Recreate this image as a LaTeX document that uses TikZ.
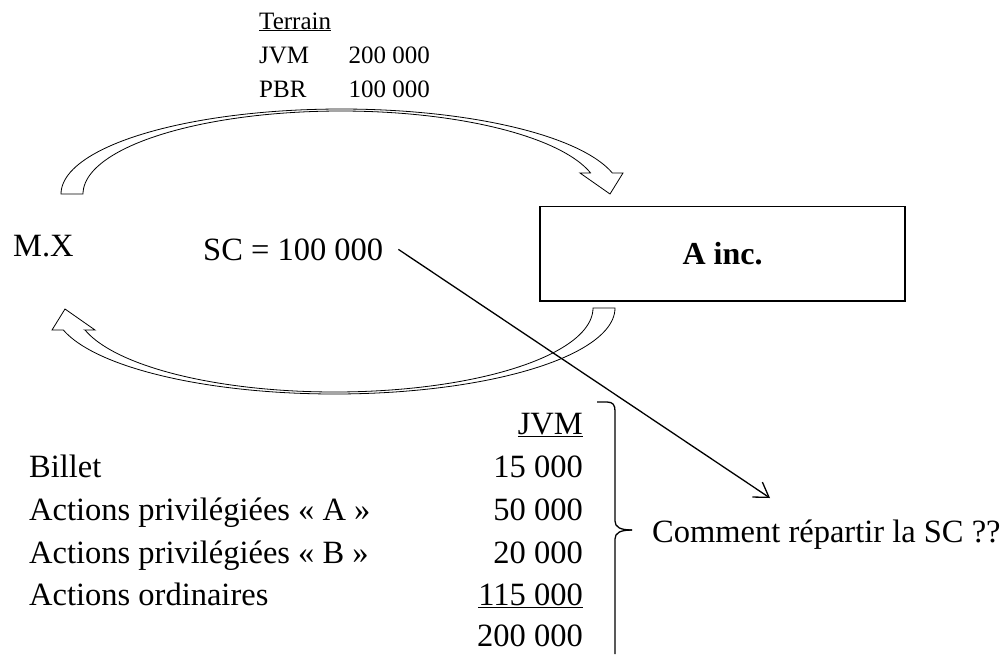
\documentclass[tikz,border=0pt]{standalone}
\usepackage{fontspec}
\setmainfont{Liberation Serif}
\usetikzlibrary{arrows.meta}

\begin{document}
\begin{tikzpicture}[x=1pt, y=-1pt,
    petit/.style={font=\fontsize{25}{30}\selectfont, inner sep=0pt},
    grand/.style={font=\fontsize{32.5}{39}\selectfont, inner sep=0pt},
    fleche/.style={draw, fill=white, line width=0.8pt, line join=miter}]
  \useasboundingbox (0,0) rectangle (1008,654);

  	\node[petit, anchor=base west] (terrain) at (259,29) {\underline{Terrain}};
  	\node[petit, anchor=base west] (jvmlbl) at (259,63) {JVM};
  	\node[petit, anchor=base east] (jvmval) at (430,63) {200 000};
  	\node[petit, anchor=base west] (pbrlbl) at (259,97) {PBR};
  	\node[petit, anchor=base east] (pbrval) at (430,97) {100 000};

  % fleches courbes
  \draw[fleche] plot[domain=180:345.7, samples=90, variable=\t] ({341+280*cos(\t)}, {194+85*sin(\t)})
     -- (623,173) -- (610,194) -- (580,173) -- (591,173)
     -- plot[domain=345.3:180, samples=90, variable=\t] ({341+258*cos(\t)}, {194+83*sin(\t)}) -- cycle;
  \draw[fleche] plot[domain=0:165.2, samples=90, variable=\t] ({334.5+280.5*cos(\t)}, {308+86*sin(\t)})
     -- (52,330) -- (65,309) -- (95,330) -- (85,330)
     -- plot[domain=164.8:0, samples=90, variable=\t] ({334.5+258.5*cos(\t)}, {308+84*sin(\t)}) -- cycle;

  	\node[grand, anchor=base west] (mx) at (13,256) {M.X};
  	\node[grand, anchor=base west] (sc) at (203,260) {SC = 100 000};
  	\node[draw, line width=1.2pt, minimum width=365pt, minimum height=94.5pt,
  	  font=\fontsize{32}{38}\selectfont\bfseries] (ainc) at (722.5,253.75) {A inc.};

  	\node[grand, anchor=base east] (jvmcol) at (583,434) {\underline{JVM}};
  	\node[grand, anchor=base west] (billet) at (29,477) {Billet};
  	\node[grand, anchor=base east] (billetval) at (583,477) {15 000};
  	\node[grand, anchor=base west] (prefa) at (29,520) {Actions privilégiées « A »};
  	\node[grand, anchor=base east] (prefaval) at (583,520) {50 000};
  	\node[grand, anchor=base west] (prefb) at (29,563) {Actions privilégiées « B »};
  	\node[grand, anchor=base east] (prefbval) at (583,563) {20 000};
  	\node[grand, anchor=base west] (ordin) at (29,605) {Actions ordinaires};
  	\node[grand, anchor=base east] (ordinval) at (583,605) {\underline{115 000}};
  	\node[grand, anchor=base east] (total) at (583,646) {200 000};
  	\node[grand, anchor=base west] (question) at (652,542) {Comment répartir la SC ??};

  % accolade
  \draw[line width=1.3pt] (597,402) -- (607,402) .. controls (613,402) and (615,405) .. (615,411)
     -- (615,521) .. controls (615,527) and (620,530) .. (632,530);
  \draw[line width=1.3pt] (632,530) .. controls (620,530) and (615,533) .. (615,539) -- (615,654);

  \coordinate (cible) at (770,498);
  \draw[line width=1.3pt, -{Straight Barb[length=14pt, width=18pt]}] ([xshift=15pt]sc.east) -- (cible);
\end{tikzpicture}
\end{document}
